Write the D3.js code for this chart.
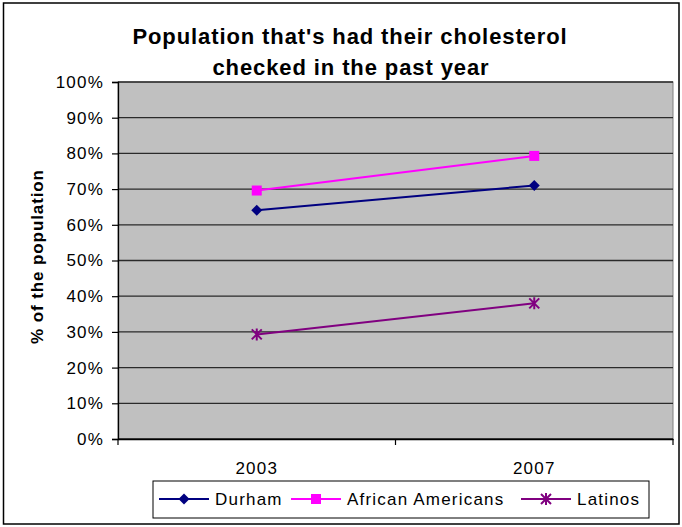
<!DOCTYPE html>
<html>
<head>
<meta charset="utf-8">
<script src="https://cdn.jsdelivr.net/npm/d3@7/dist/d3.min.js"></script>
<style>
  html, body { margin: 0; padding: 0; background: #fff; }
  svg { display: block; font-family: "Liberation Sans", Arial, sans-serif; }
</style>
</head>
<body>
<svg id="chart" width="682" height="527"></svg>
<script>
// Survey years (categories)
const years = ["2003", "2007"];
// Share of each group that had cholesterol checked in the past year (%)
const durham = [64.1, 71.0];
const africanAmericans = [69.6, 79.3];
const latinos = [29.3, 38.0];
// Y axis tick values (%)
const yTicks = [0, 10, 20, 30, 40, 50, 60, 70, 80, 90, 100];

const seriesNames = ["Durham", "African Americans", "Latinos"];
const seriesValues = [durham, africanAmericans, latinos];
const seriesColors = ["#000080", "#FF00FF", "#800080"];
const seriesMarkers = ["diamond", "square", "star"];

const svg = d3.select("#chart");
const plot = { left: 118, right: 673, top: 82, bottom: 439 };
const FONT = "Liberation Sans, Arial, sans-serif";
const LABEL_SIZE = 17, LABEL_SPACING = 1.2;

// Outer chart frame
svg.append("rect")
  .attr("x", 3.5).attr("y", 3).attr("width", 675.5).attr("height", 521)
  .attr("fill", "#fff").attr("stroke", "#000").attr("stroke-width", 1.5);

const x = d3.scaleBand().domain(years).range([plot.left, plot.right]).padding(0);
const y = d3.scaleLinear().domain([0, 100]).range([plot.bottom, plot.top]);

// Plot area
svg.append("rect")
  .attr("x", plot.left).attr("y", plot.top)
  .attr("width", plot.right - plot.left).attr("height", plot.bottom - plot.top)
  .attr("fill", "#C0C0C0").attr("stroke", "#808080").attr("stroke-width", 1);

// Horizontal gridlines
svg.append("g").selectAll("line").data(yTicks).join("line")
  .attr("x1", plot.left).attr("x2", plot.right)
  .attr("y1", d => y(d)).attr("y2", d => y(d))
  .attr("stroke", "#2a2a2a").attr("stroke-width", 1.3);

function styleLabels(sel) {
  sel.attr("font-size", LABEL_SIZE).attr("fill", "#000")
    .attr("font-family", FONT).attr("letter-spacing", LABEL_SPACING);
}

// Y axis
const yAxis = svg.append("g")
  .attr("transform", `translate(${plot.left},0)`)
  .call(d3.axisLeft(y).tickValues(yTicks).tickFormat(d => d + "%").tickSize(6).tickPadding(8));
yAxis.select(".domain").attr("stroke", "#000").attr("stroke-width", 1.3);
yAxis.selectAll(".tick line").attr("stroke", "#000").attr("stroke-width", 1.2);
styleLabels(yAxis.selectAll("text"));

// X axis (ticks sit between categories)
const xAxis = svg.append("g")
  .attr("transform", `translate(0,${plot.bottom})`)
  .call(d3.axisBottom(x).tickSize(0).tickPadding(22.5));
xAxis.select(".domain").attr("stroke", "#000").attr("stroke-width", 1.3);
styleLabels(xAxis.selectAll("text"));
const bounds = [x.range()[0], ...years.map(d => x(d) + x.bandwidth())];
xAxis.selectAll(".bound").data(bounds).join("line").attr("class", "bound")
  .attr("x1", d => d).attr("x2", d => d).attr("y1", 0).attr("y2", 6)
  .attr("stroke", "#000").attr("stroke-width", 1.2);

// Marker drawing
function drawMarker(g, type, color, size) {
  const s = size / 2;
  if (type === "diamond") {
    g.append("path").attr("d", `M0,${-s - 0.5}L${s + 0.5},0L0,${s + 0.5}L${-s - 0.5},0Z`).attr("fill", color);
  } else if (type === "square") {
    g.append("rect").attr("x", -s).attr("y", -s).attr("width", size).attr("height", size).attr("fill", color);
  } else {
    g.append("path")
      .attr("d", `M${-s},${-s}L${s},${s}M${-s},${s}L${s},${-s}M0,${-s - 1}L0,${s + 1}`)
      .attr("stroke", color).attr("stroke-width", 2).attr("fill", "none");
  }
}

const cx = d => x(d) + x.bandwidth() / 2;
const line = d3.line().x(d => cx(d.year)).y(d => y(d.value));

seriesValues.forEach((vals, i) => {
  const pts = years.map((yr, j) => ({ year: yr, value: vals[j] }));
  svg.append("path").datum(pts)
    .attr("d", line).attr("fill", "none")
    .attr("stroke", seriesColors[i]).attr("stroke-width", 2);
  pts.forEach(p => {
    const g = svg.append("g").attr("transform", `translate(${cx(p.year)},${y(p.value)})`);
    drawMarker(g, seriesMarkers[i], seriesColors[i], 10);
  });
});

// Title
const title = svg.append("text")
  .attr("text-anchor", "middle").attr("font-size", 22).attr("font-weight", "bold")
  .attr("letter-spacing", 0.9).attr("fill", "#000");
title.append("tspan").attr("x", 350).attr("y", 44).text("Population that's had their cholesterol");
title.append("tspan").attr("x", 351).attr("y", 75).text("checked in the past year");

// Y axis title
svg.append("text")
  .attr("transform", `translate(43,${(plot.top + plot.bottom) / 2 - 4}) rotate(-90)`)
  .attr("text-anchor", "middle").attr("font-size", LABEL_SIZE).attr("font-weight", "bold")
  .attr("letter-spacing", 0.9).attr("fill", "#000").text("% of the population");

// Legend
const legend = svg.append("g");
legend.append("rect").attr("x", 153).attr("y", 481).attr("width", 496).attr("height", 37)
  .attr("fill", "#fff").attr("stroke", "#000").attr("stroke-width", 1);
const legendX = [159, 291, 521];
seriesNames.forEach((name, i) => {
  const g = legend.append("g").attr("transform", `translate(${legendX[i]},499)`);
  g.append("line").attr("x1", 0).attr("x2", 50).attr("y1", 0).attr("y2", 0)
    .attr("stroke", seriesColors[i]).attr("stroke-width", 2);
  const m = g.append("g").attr("transform", "translate(25,0)");
  drawMarker(m, seriesMarkers[i], seriesColors[i], 10);
  styleLabels(g.append("text").attr("x", 56).attr("y", 6).text(name));
});
</script>
</body>
</html>
